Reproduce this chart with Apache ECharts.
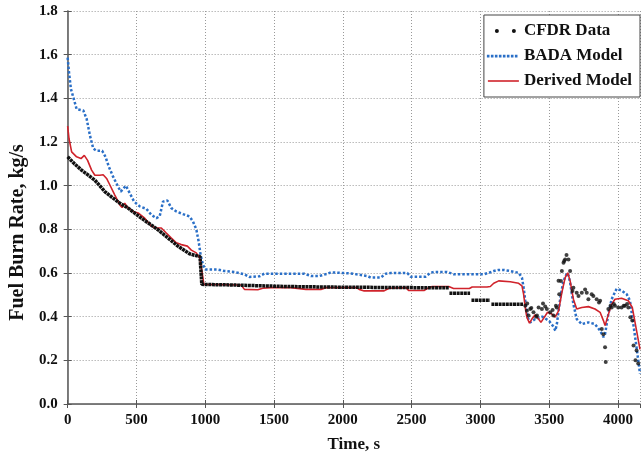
<!DOCTYPE html>
<html>
<head>
<meta charset="utf-8">
<script src="https://cdn.jsdelivr.net/npm/echarts@6/dist/echarts.min.js"></script>
<style>
html, body { margin: 0; padding: 0; background: #fff; }
#main { width: 641px; height: 458px; }
</style>
</head>
<body>
<div id="main"></div>
<script>
var xTicks = [0, 500, 1000, 1500, 2000, 2500, 3000, 3500, 4000];
var yTicks = ['0.0', '0.2', '0.4', '0.6', '0.8', '1.0', '1.2', '1.4', '1.6', '1.8'];
var names = ['CFDR Data', 'BADA Model', 'Derived Model'];

// dense part of the flight data, drawn as a thick run of dots
var cfdrTrend = [
	[0,1.132],[50,1.10],[101,1.071],[150,1.048],[198,1.025],[240,0.995],[270,0.973],[320,0.948],[379,0.92],[440,0.897],
	[490,0.873],[536,0.851],[600,0.823],[657,0.798],[730,0.76],[802,0.723],[850,0.703],[886,0.688],[947,0.677],[962,0.676],
	[975,0.548],[1200,0.545],[1600,0.538],[2000,0.535],[2770,0.532],[2771,null],
	[2775,0.507],[2925,0.507],[2926,null],[2935,0.475],[3070,0.475],[3071,null],[3080,0.457],[3310,0.457]
];
var cfdrPoints = [
	[3326,0.45],[3338,0.427],[3340,0.46],[3350,0.405],[3362,0.435],[3370,0.44],[3386,0.42],[3405,0.40],[3411,0.405],[3423,0.442],
	[3447,0.435],[3455,0.46],[3471,0.447],[3483,0.435],[3507,0.42],[3525,0.43],[3531,0.405],[3549,0.45],[3555,0.442],[3568,0.564],
	[3573,0.503],[3585,0.563],[3592,0.609],[3604,0.647],[3609,0.655],[3616,0.662],[3626,0.682],[3640,0.662],[3652,0.609],[3669,0.518],
	[3676,0.533],[3700,0.51],[3713,0.495],[3737,0.51],[3761,0.525],[3773,0.51],[3785,0.48],[3809,0.503],[3821,0.495],[3845,0.48],
	[3862,0.465],[3870,0.473],[3882,0.344],[3894,0.32],[3906,0.26],[3911,0.192],[3930,0.435],[3946,0.45],[3954,0.442],[3970,0.458],
	[3978,0.45],[4002,0.442],[4026,0.442],[4042,0.45],[4050,0.45],[4066,0.458],[4075,0.442],[4090,0.397],[4104,0.382],[4113,0.268],
	[4127,0.2],[4135,0.245],[4147,0.185]
];
var badaData = [
	[0,1.586],[10,1.518],[24,1.442],[41,1.405],[65,1.351],[114,1.344],[138,1.306],[162,1.23],[186,1.17],[210,1.16],
	[251,1.16],[275,1.132],[300,1.086],[331,1.04],[367,0.995],[386,0.973],[423,1.0],[452,0.965],[483,0.927],[524,0.905],
	[572,0.894],[609,0.866],[645,0.851],[669,0.86],[693,0.927],[725,0.932],[754,0.897],[790,0.882],[838,0.87],[886,0.859],
	[911,0.836],[935,0.80],[952,0.745],[966,0.684],[983,0.639],[1000,0.616],[1092,0.616],[1140,0.609],[1212,0.605],[1285,0.594],
	[1321,0.582],[1394,0.585],[1430,0.597],[1720,0.597],[1768,0.586],[1828,0.586],[1889,0.597],[1913,0.603],[2058,0.598],[2179,0.586],
	[2203,0.579],[2275,0.579],[2312,0.597],[2348,0.60],[2469,0.60],[2493,0.583],[2601,0.583],[2638,0.601],[2662,0.605],[2758,0.605],
	[2807,0.594],[3024,0.594],[3061,0.601],[3097,0.609],[3130,0.614],[3170,0.614],[3217,0.609],[3278,0.601],[3302,0.579],[3314,0.533],
	[3326,0.473],[3343,0.397],[3362,0.374],[3400,0.39],[3450,0.40],[3500,0.38],[3530,0.355],[3545,0.336],[3556,0.367],[3568,0.427],
	[3585,0.503],[3604,0.564],[3630,0.60],[3640,0.59],[3652,0.556],[3676,0.457],[3700,0.389],[3737,0.366],[3785,0.374],[3833,0.366],
	[3870,0.336],[3894,0.306],[3906,0.32],[3930,0.412],[3954,0.48],[3990,0.528],[4026,0.52],[4063,0.503],[4087,0.473],[4106,0.39],
	[4135,0.26],[4160,0.139]
];
var derivedData = [
	[0,1.273],[10,1.215],[29,1.155],[65,1.132],[97,1.124],[121,1.139],[145,1.116],[174,1.071],[198,1.048],[234,1.048],
	[258,1.05],[283,1.033],[307,1.003],[343,0.957],[379,0.912],[396,0.90],[415,0.92],[440,0.897],[476,0.882],[512,0.875],
	[560,0.851],[609,0.814],[645,0.806],[681,0.806],[717,0.783],[754,0.76],[790,0.738],[826,0.73],[870,0.723],[899,0.705],
	[935,0.692],[959,0.67],[976,0.609],[990,0.548],[1261,0.545],[1285,0.525],[1382,0.523],[1418,0.53],[1478,0.533],[1623,0.533],
	[1732,0.525],[1841,0.525],[1877,0.533],[2100,0.533],[2119,0.525],[2155,0.518],[2300,0.518],[2336,0.53],[2460,0.533],[2478,0.52],
	[2590,0.52],[2625,0.533],[2650,0.538],[2770,0.538],[2805,0.529],[2920,0.529],[2940,0.536],[3048,0.536],[3072,0.538],[3097,0.553],
	[3133,0.564],[3217,0.56],[3278,0.553],[3302,0.541],[3314,0.503],[3326,0.442],[3338,0.397],[3357,0.37],[3374,0.389],[3398,0.409],
	[3423,0.389],[3440,0.374],[3464,0.397],[3488,0.42],[3519,0.412],[3543,0.398],[3568,0.427],[3592,0.51],[3616,0.579],[3635,0.601],
	[3652,0.564],[3676,0.48],[3700,0.435],[3737,0.442],[3785,0.446],[3833,0.435],[3870,0.42],[3894,0.382],[3906,0.359],[3918,0.365],
	[3935,0.42],[3954,0.457],[3978,0.48],[4026,0.484],[4075,0.473],[4104,0.442],[4135,0.336],[4160,0.25]
];

var serif = '"Liberation Serif", "Times New Roman", serif';
// legend swatches, all on a 32x14 box
var twoDots = 'path://M0,0M32,14M8,7a2,2 0 1,0 4,0a2,2 0 1,0 -4,0zM25,7a2,2 0 1,0 4,0a2,2 0 1,0 -4,0z';
var dotRow = 'path://M0,0M32,14M0,5.8h2.6v2.6h-2.6zM4,5.8h2.6v2.6h-2.6zM8,5.8h2.6v2.6h-2.6zM12,5.8h2.6v2.6h-2.6z' +
	'M16,5.8h2.6v2.6h-2.6zM20,5.8h2.6v2.6h-2.6zM24,5.8h2.6v2.6h-2.6zM28,5.8h2.6v2.6h-2.6z';
var thinLine = 'path://M0,0M32,14M1,6.2h31v1.6h-31z';

var myChart = echarts.init(document.getElementById('main'));

var option = {
	animation: false,
	backgroundColor: '#fff',
	grid: { left: 66, right: 1, top: 11, bottom: 51 },
	legend: {
		data: [
			{ name: names[0], icon: twoDots },
			{ name: names[1], icon: dotRow },
			{ name: names[2], icon: thinLine }
		],
		orient: 'vertical',
		right: 1,
		top: 15,
		padding: [7, 8, 7, 3],
		itemWidth: 32,
		itemHeight: 14,
		itemGap: 7,
		backgroundColor: '#fff',
		borderColor: '#444',
		borderWidth: 1,
		borderRadius: 0,
		textStyle: { fontFamily: serif, fontWeight: 'bold', fontSize: 17, color: '#111', lineHeight: 18 }
	},
	xAxis: [{
		type: 'value',
		min: 0,
		max: 4160,
		interval: 500,
		name: 'Time, s',
		nameLocation: 'middle',
		nameGap: 32,
		nameTextStyle: { fontFamily: serif, fontWeight: 'bold', fontSize: 17, color: '#111' },
		axisLine: { lineStyle: { color: '#555', width: 1.5 } },
		axisTick: { inside: true, length: 4, lineStyle: { color: '#555' } },
		axisLabel: {
			margin: 9, showMaxLabel: false,
			fontFamily: serif, fontWeight: 'bold', fontSize: 15, color: '#111',
			formatter: function (v) { return xTicks.indexOf(v) >= 0 ? String(v) : ''; }
		},
		splitLine: { lineStyle: { color: '#999', type: [1, 2] } }
	}, {
		type: 'value',
		position: 'top',
		min: 0,
		max: 4160,
		interval: 500,
		axisLine: { lineStyle: { color: '#777', width: 1 } },
		axisTick: { inside: true, length: 4, lineStyle: { color: '#555' } },
		axisLabel: { show: false },
		splitLine: { show: false }
	}],
	yAxis: [{
		type: 'value',
		min: 0,
		max: 1.8,
		interval: 0.2,
		name: 'Fuel Burn Rate, kg/s',
		nameLocation: 'middle',
		nameGap: 38,
		nameTextStyle: { fontFamily: serif, fontWeight: 'bold', fontSize: 20, color: '#111', padding: [0, 50, 0, 0] },
		axisLine: { show: true, lineStyle: { color: '#555', width: 1.5 } },
		axisTick: { show: true, inside: true, length: 4, lineStyle: { color: '#555' } },
		axisLabel: {
			margin: 10, fontFamily: serif, fontWeight: 'bold', fontSize: 15, color: '#111',
			formatter: function (v) { return yTicks[Math.round(v * 5)]; }
		},
		splitLine: { lineStyle: { color: '#999', type: [1, 2] } }
	}, {
		type: 'value',
		position: 'right',
		min: 0,
		max: 1.8,
		interval: 0.2,
		axisLine: { show: true, lineStyle: { color: '#777', width: 1 } },
		axisTick: { show: true, inside: true, length: 4, lineStyle: { color: '#555' } },
		axisLabel: { show: false },
		splitLine: { show: false }
	}],
	series: [{
		name: names[1],
		type: 'line',
		data: badaData,
		symbol: 'none',
		z: 3,
		lineStyle: { color: '#2a6fc7', width: 2.5, type: [2.5, 2] },
		itemStyle: { color: '#2a6fc7' }
	}, {
		name: names[2],
		type: 'line',
		data: derivedData,
		symbol: 'none',
		z: 4,
		lineStyle: { color: '#d0232b', width: 1.6 },
		itemStyle: { color: '#d0232b' }
	}, {
		name: names[0],
		type: 'line',
		data: cfdrTrend,
		symbol: 'none',
		connectNulls: false,
		z: 5,
		lineStyle: { color: '#111', width: 3.5, type: [3, 0.6] },
		itemStyle: { color: '#111' }
	}, {
		name: names[0],
		type: 'scatter',
		data: cfdrPoints,
		symbolSize: 4,
		z: 6,
		itemStyle: { color: '#111' }
	}]
};

myChart.setOption(option);
</script>
</body>
</html>
